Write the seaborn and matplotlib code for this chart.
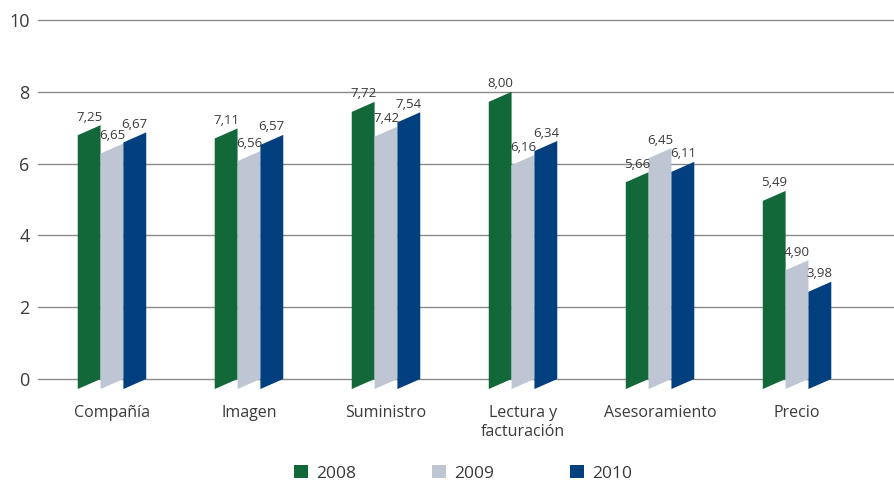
import matplotlib
matplotlib.use("Agg")
import matplotlib.pyplot as plt
import seaborn as sns
import pandas as pd
from matplotlib.patches import Polygon, Patch

# Data
categorias = ["Compañía", "Imagen", "Suministro", "Lectura y\nfacturación", "Asesoramiento", "Precio"]
anios = ["2008", "2009", "2010"]
# values printed on the bars
valores_2008 = [7.25, 7.11, 7.72, 8.00, 5.66, 5.49]
valores_2009 = [6.65, 6.56, 7.42, 6.16, 6.45, 4.90]
valores_2010 = [6.67, 6.57, 7.54, 6.34, 6.11, 3.98]
# heights the bars are actually drawn at in the original (3D perspective)
alturas_2008 = [7.07, 6.98, 7.72, 8.00, 5.76, 5.24]
alturas_2009 = [6.56, 6.35, 7.03, 6.24, 6.43, 3.31]
alturas_2010 = [6.87, 6.80, 7.43, 6.63, 6.05, 2.71]
colores = ["#126838", "#BFC6D3", "#023F7E"]

valores = [valores_2008, valores_2009, valores_2010]
alturas = [alturas_2008, alturas_2009, alturas_2010]
rows = []
for a, h in zip(anios, alturas):
    for c, v in zip(categorias, h):
        rows.append({"categoria": c, "anio": a, "altura": v})
df = pd.DataFrame(rows)

sns.set_style("white")
plt.rcParams['font.family'] = ['Open Sans', 'DejaVu Sans']
texto = "#3a3a3a"

fig = plt.figure(figsize=(8.95, 4.84), dpi=100)
ax = fig.add_axes([38 / 895, 0.191, (895 - 38) / 895, 0.9587 - 0.191])

sns.barplot(data=df, x="categoria", y="altura", hue="anio", palette=colores,
            width=0.5, ax=ax, legend=False, saturation=1)

# turn the flat bars into slanted "3D" parallelograms
slant = 0.28
for cont, vals, col in zip(ax.containers, valores, colores):
    for bar, v in zip(cont, vals):
        x0 = bar.get_x()
        w = bar.get_width()
        h = bar.get_height()
        bar.set_visible(False)
        poly = Polygon([(x0, -slant), (x0 + w, 0), (x0 + w, h), (x0, h - slant)],
                       closed=True, facecolor=col, edgecolor="none", zorder=3)
        ax.add_patch(poly)
        ax.text(x0 + w / 2, h + 0.04, f"{v:.2f}".replace(".", ","),
                ha="center", va="bottom", fontsize=9.5, color=texto, zorder=4)

ax.set_ylim(-0.35, 10)
ax.set_xlim(-0.54, 5.715)
ax.set_yticks([0, 2, 4, 6, 8, 10])
for y in [0, 2, 4, 6, 8, 10]:
    ax.axhline(y, color="#8a8a8a", lw=1, zorder=1, clip_on=False)
for s in ax.spines.values():
    s.set_visible(False)
ax.tick_params(axis="y", length=0, pad=6, labelsize=13, labelcolor=texto)
ax.tick_params(axis="x", length=0, pad=10, labelsize=11.5, labelcolor=texto)
ax.set_xlabel("")
ax.set_ylabel("")
for lbl in ax.get_xticklabels():
    lbl.set_linespacing(1.25)

handles = [Patch(facecolor=c, edgecolor="none") for c in colores]
fig.legend(handles, anios, loc="center", bbox_to_anchor=(463 / 895, 0.022), ncol=3,
           frameon=False, fontsize=12.5, handlelength=0.8, handleheight=0.8,
           handletextpad=0.45, columnspacing=4.4, labelcolor=texto)

fig.savefig("out.png", dpi=100)
